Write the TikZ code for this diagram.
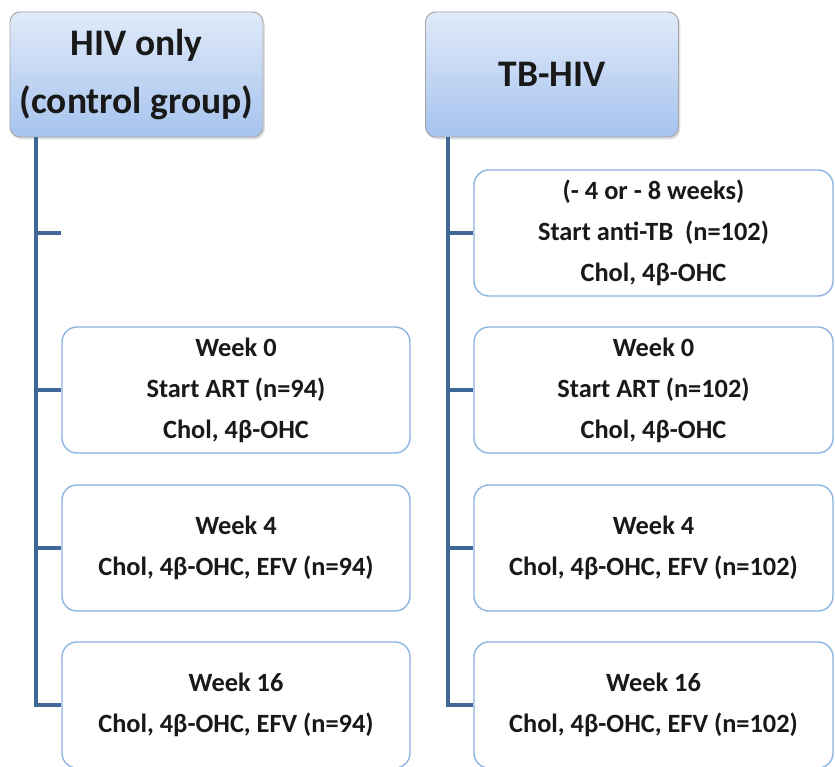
\documentclass[tikz,border=0pt]{standalone}
\usepackage{fontspec}
\setmainfont{Carlito}
\usetikzlibrary{shadows}
\definecolor{trunk}{HTML}{3F6797}
\definecolor{boxline}{HTML}{8DB3E2}
\definecolor{hdtop}{HTML}{E0EAF9}
\definecolor{hdbot}{HTML}{A6C3EE}
\tikzset{hd/.append style={draw=gray!70,line width=0.8pt,rounded corners=0.3cm,top color=hdtop,bottom color=hdbot,
  minimum width=7.59cm,minimum height=3.75cm,align=center,font=\fontsize{32}{49}\selectfont\bfseries,
  drop shadow={opacity=0.25,shadow xshift=1.5pt,shadow yshift=-2pt}}}
\tikzset{bx/.append style={draw=boxline,line width=1.2pt,rounded corners=0.45cm,fill=white,
  minimum height=3.78cm,align=center,font=\fontsize{22.5}{35}\selectfont\bfseries}}
\tikzset{ln/.append style={draw=trunk,line width=3.5pt}}

\begin{document}
\begin{tikzpicture}[x=0.03cm,y=-0.03cm,text=black!90]
                \useasboundingbox (0,0) rectangle (835,767);
                % heads
                \node[hd] (hl) at (136.5,74.5) {HIV only\\(control group)};
                \node[hd] (hr) at (552,74.5) {TB-HIV};
                % left column
                \node[bx,minimum width=10.44cm] (l0) at (236,390) {Week 0\\Start ART (n=94)\\Chol, 4β-OHC};
                \node[bx,minimum width=10.44cm] (l4) at (236,548) {Week 4\\Chol, 4β-OHC, EFV (n=94)};
                \node[bx,minimum width=10.44cm] (l16) at (236,705) {Week 16\\Chol, 4β-OHC, EFV (n=94)};
                % right column
                \node[bx,minimum width=10.77cm] (rtb) at (653.5,233) {(- 4 or - 8 weeks)\\Start anti-TB\ \ (n=102)\\Chol, 4β-OHC};
                \node[bx,minimum width=10.77cm] (r0) at (653.5,390) {Week 0\\Start ART (n=102)\\Chol, 4β-OHC};
                \node[bx,minimum width=10.77cm] (r4) at (653.5,548) {Week 4\\Chol, 4β-OHC, EFV (n=102)};
                \node[bx,minimum width=10.77cm] (r16) at (653.5,705) {Week 16\\Chol, 4β-OHC, EFV (n=102)};
                \coordinate (ta) at (36,0);
                \coordinate (tb) at (448,0);
                \coordinate (e) at (61,233);
                % trunks and ticks
                \draw[ln] (hl.south -| ta) -- (ta |- l16.west) -- (l16.west);
                \draw[ln] (ta |- e) -- (e);
                \draw[ln] (ta |- l0.west) -- (l0.west);
                \draw[ln] (ta |- l4.west) -- (l4.west);
                \draw[ln] (hr.south -| tb) -- (tb |- r16.west) -- (r16.west);
                \draw[ln] (tb |- rtb.west) -- (rtb.west);
                \draw[ln] (tb |- r0.west) -- (r0.west);
                \draw[ln] (tb |- r4.west) -- (r4.west);
            \end{tikzpicture}
\end{document}
